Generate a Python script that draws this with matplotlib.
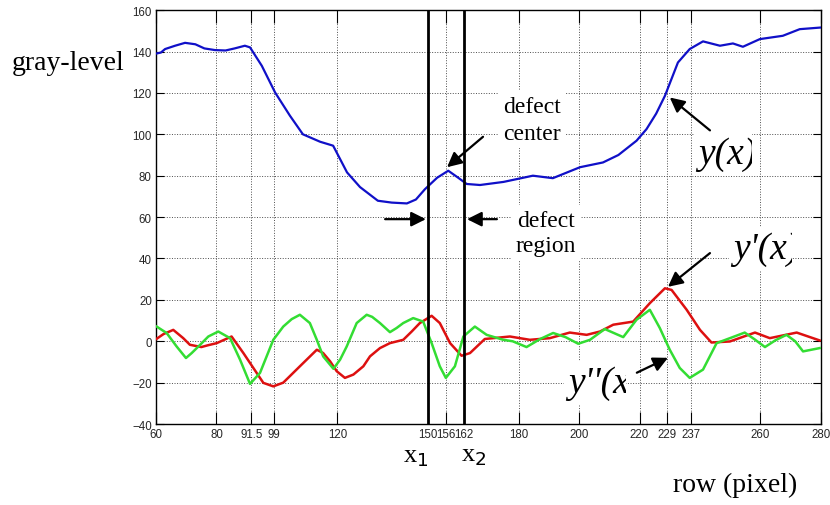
import numpy as np
import matplotlib.pyplot as plt
from matplotlib.transforms import Bbox, TransformedBbox

plt.rcParams['font.family'] = ['Liberation Sans Narrow', 'Liberation Sans', 'DejaVu Sans']
serif = 'Liberation Serif'

# gray-level profile y(x)
x_y = [60, 61.6, 63, 66.3, 69.6, 73, 76, 79.5, 83, 86, 89.4, 91.1, 95, 99.4, 104.3,
       108.6, 114.3, 118.6, 123.2, 127.5, 133.4, 138, 143, 146, 149, 153, 156.7,
       160, 162.8, 167.2, 175, 184.7, 191.3, 200.3, 207.9, 213, 219, 222.3, 225.5,
       228.4, 232.7, 236.6, 241, 246.6, 250.9, 254.2, 259.8, 267.4, 273, 280]
y_y = [139, 139.5, 141.2, 142.8, 144.2, 143.5, 141.5, 140.7, 140.5, 141.5, 142.8, 142,
       133.1, 120.2, 109, 100, 96.4, 94.5, 81.6, 74.5, 67.9, 67, 66.6, 68.5, 73.5,
       79, 82.4, 79, 76, 75.5, 77, 80, 78.8, 84.1, 86.4, 90, 96.9, 102.5, 110,
       118.6, 134.7, 141.2, 144.9, 142.8, 143.9, 142.3, 146, 147.6, 150.8, 151.6]

# first derivative y'(x)
x_d1 = [60, 62.5, 65.7, 69, 71.2, 75, 77, 80.1, 85, 88.9, 91.1, 95.5, 98.8, 102.1,
        107.6, 110.4, 113.2, 115.3, 117.6, 119.8, 122.5, 125.3, 128.6, 130.8, 134.1,
        137.4, 141.8, 144.6, 147.3, 151.2, 153.9, 157.3, 161.1, 163.9, 168.8, 177.1,
        183.7, 190.3, 196.9, 202.5, 206.9, 211.3, 217.9, 223.4, 228.4, 230.6, 235.6,
        240, 243.8, 249.9, 258.2, 263.1, 272, 279.6]
y_d1 = [1, 3.5, 5.5, 1.5, -1.7, -2.8, -2, -0.9, 2.3, -5.7, -10.5, -20.1, -21.8, -20,
        -12.1, -8.1, -4.1, -5.7, -9.7, -14.5, -17.7, -16.1, -12.1, -7.3, -3.3,
        -0.9, 0.7, 4.7, 8.8, 12.3, 8.8, -0.9, -7, -5.7, 1.1, 2.3,
        0.7, 1.5, 4.2, 3.1, 4.7, 8, 9.5, 18.4, 25.6, 24.8, 15.2,
        5.5, -0.6, -0.1, 4.2, 1.5, 4.2, 0.4]

# second derivative y''(x)
x_d2 = [60.2, 63.5, 66.8, 69.9, 71.8, 74.6, 77.3, 80.6, 84.5, 87.8, 91.1, 94.4, 96.6,
        98.8, 102.1, 104.9, 107.6, 110.9, 113.2, 115.3, 118.7, 120.9, 123.1, 126.4,
        129.7, 131.5, 134.1, 137.4, 139.6, 141.8, 145.1, 148.4, 151.2, 153.9, 155.9,
        158.9, 161.7, 165.5, 169.4, 174.9, 178, 182.6, 187, 191.4, 195.5, 199.7,
        203.6, 208.5, 214.6, 219, 223.4, 226.7, 230, 233.3, 236.6, 241, 245.5,
        249.9, 254.8, 258, 261.5, 265, 268.6, 271.5, 274.1, 279.6]
y_d2 = [7.1, 4, -2.5, -8.1, -5.7, -1.7, 2.3, 4.7, 1.5, -8.9, -20.6, -15.3, -7.3,
        0.7, 7.1, 10.7, 12.8, 8.8, 0.7, -7.3, -13.3, -8.9, -2.5, 8.8,
        12.8, 11.8, 8.8, 4.4, 6.4, 8.8, 11.2, 9.5, -0.9, -12.1, -17.7,
        -12.1, 2.3, 7.1, 3.1, 0.7, 0, -2.8, 1, 4, 2, -1.2,
        0.7, 5.9, 2, 10.4, 15.2, 6.4, -4.1, -12.9, -17.7, -13.7, -0.9,
        1.5, 4.2, 1, -2.8, 0.5, 3.1, 0, -4.9, -3.3]

x_ticks = [60, 80, 91.5, 99, 120, 150, 156, 162, 180, 200, 220, 229, 237, 260, 280]
x_tick_labels = ['60', '80', '91.5', '99', '120', '150', '156', '162', '180', '200',
                 '220', '229', '237', '260', '280']
y_ticks = [-40, -20, 0, 20, 40, 60, 80, 100, 120, 140, 160]
x1, x2 = 150, 162

fig = plt.figure(figsize=(8.3, 5.06), dpi=100)
ax = fig.add_axes([0.188, 0.160, 0.801, 0.818])

ax.plot(x_y, y_y, color='#1010c8', lw=1.6, zorder=3)
ax.plot(x_d1, y_d1, color='#dd1010', lw=1.8, zorder=3)
ax.plot(x_d2, y_d2, color='#33dd33', lw=1.8, zorder=3)

ax.axvline(x1, color='black', lw=2, zorder=4)
ax.axvline(x2, color='black', lw=2, zorder=4)

ax.set_xlim(60, 280)
ax.set_ylim(-40, 160)
ax.set_xticks(x_ticks)
ax.set_xticklabels(x_tick_labels)
ax.set_yticks(y_ticks)
ax.grid(True, color='0.3', linestyle=':', linewidth=0.7)
ax.tick_params(axis='both', direction='in', top=True, right=True, labelsize=8.3,
               labelcolor='0.15', pad=3)
ax.tick_params(axis='x', length=9)
ax.tick_params(axis='y', length=6)
for s in ax.spines.values():
    s.set_linewidth(1.0)

box = dict(facecolor='white', edgecolor='none', pad=3)
arrow = dict(arrowstyle='-|>', color='black', lw=1.6, mutation_scale=22,
             shrinkA=0, shrinkB=0)

ax.text(184.4, 107, 'defect\ncenter', family=serif, fontsize=17, ha='center',
        va='center', linespacing=1.4, bbox=box, zorder=5)
ax.annotate('', xy=(156.3, 84.1), xytext=(168.2, 98.8), arrowprops=arrow, zorder=6)

ax.text(189, 52.3, 'defect\nregion', family=serif, fontsize=17, ha='center',
        va='center', linespacing=1.3, bbox=box, zorder=5)
ax.annotate('', xy=(149.3, 59), xytext=(135.8, 59), arrowprops=arrow, zorder=6)
ax.annotate('', xy=(162.9, 59), xytext=(172.8, 59), arrowprops=arrow, zorder=6)

# the curve names are cut on the right, as in the source picture
labels = [('y(x)', 239.3, 86.0, 257.2), ("y'(x)", 250.9, 40.2, 270.4),
          ("y''(x)", 196.3, -24.3, 215.4)]
for txt, tx, ty, cut in labels:
    t = ax.text(tx, ty, txt, family=serif, style='italic', fontsize=27,
                va='baseline', bbox=box, zorder=5)
    t.set_clip_box(TransformedBbox(Bbox([[tx - 5, ty - 20], [cut, ty + 25]]),
                                   ax.transData))
    t.set_clip_on(True)

ax.annotate('', xy=(230, 117.8), xytext=(243.3, 101.9), arrowprops=arrow, zorder=6)
ax.annotate('', xy=(229.4, 26.3), xytext=(243.3, 42.6), arrowprops=arrow, zorder=6)
ax.annotate('', xy=(229.4, -8.0), xytext=(219.1, -15.2), arrowprops=arrow, zorder=6)

ax.text(146, -58, 'x$_1$', family=serif, fontsize=19, ha='center', va='baseline',
        clip_on=False)
ax.text(165, -57.5, 'x$_2$', family=serif, fontsize=19, ha='center', va='baseline',
        clip_on=False)

fig.text(0.0145, 0.875, 'gray-level', family=serif, fontsize=20, va='center')
fig.text(0.8855, 0.0415, 'row (pixel)', family=serif, fontsize=20, ha='center',
         va='center')

plt.savefig('out.png', dpi=100)
